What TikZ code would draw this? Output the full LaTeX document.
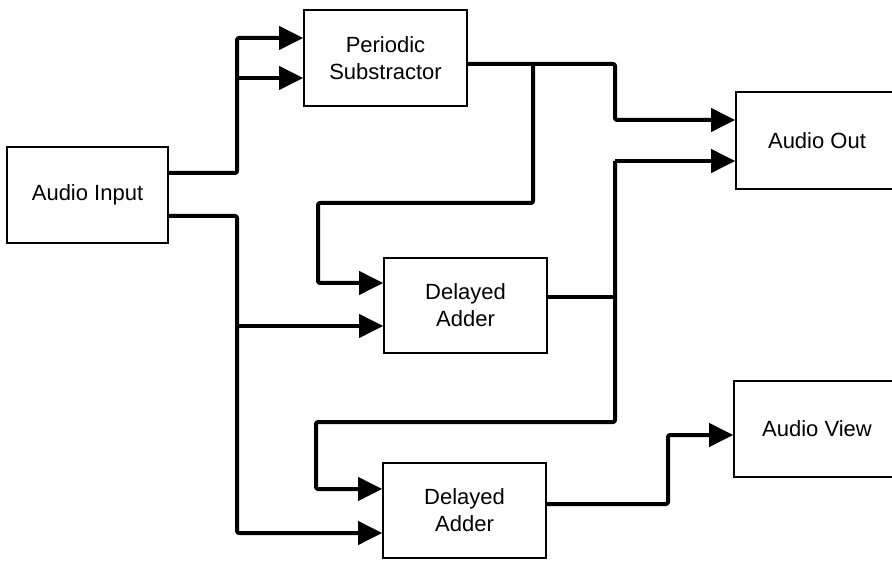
\documentclass[tikz,border=0pt]{standalone}
\usepackage{fontspec}
\setmainfont{Liberation Sans}
\usetikzlibrary{arrows.meta}
\begin{document}
\begin{tikzpicture}[x=1pt,y=-1pt,
  blk/.style={draw=black,line width=1.6pt,rectangle,inner sep=0pt,align=center,
    font=\fontsize{22}{27}\selectfont},
  wire/.style={line width=4pt,rounded corners=2pt,line join=round},
  arr/.style={wire,-{Triangle[length=24pt,width=23pt]}}]
\clip (0,0) rectangle (892,561);
\fill[white] (0,0) rectangle (892,561);
% blocks
\node[blk,minimum width=161pt,minimum height=96pt] (ain)  at (87.5,195)  {Audio Input};
\node[blk,minimum width=163pt,minimum height=96pt] (ps)   at (385.5,58)  {Periodic\\Substractor};
\node[blk,minimum width=162pt,minimum height=97pt] (aout) at (817,140.5) {Audio Out};
\node[blk,minimum width=163pt,minimum height=95pt] (da1)  at (465.5,305.5) {Delayed\\Adder};
\node[blk,minimum width=166pt,minimum height=96pt] (view) at (817,429)   {Audio View};
\node[blk,minimum width=163pt,minimum height=95pt] (da2)  at (464.5,510.5) {Delayed\\Adder};
% junction coordinates
\coordinate (j1) at (237,173);
\coordinate (j2) at (237,216);
\coordinate (j3) at (533,64);
\coordinate (j4) at (615,161);
% audio input -> periodic substractor
\draw[arr] (ain.east |- j1) -- (j1) -- (237,38) -- (ps.west |- 0,38);
\draw[arr] (237,78) -- (ps.west |- 0,78);
% audio input -> delayed adders
\draw[arr] (ain.east |- j2) -- (j2) -- (237,533) -- (da2.west |- 0,533);
\draw[arr] (237,326) -- (da1.west |- 0,326);
% periodic substractor -> audio out, delayed adder 1
\draw[arr] (ps.east |- j3) -- (615,64) -- (615,120) -- (aout.west |- 0,120);
\draw[arr] (j3) -- (533,203) -- (318,203) -- (318,283) -- (da1.west |- 0,283);
% delayed adder 1 -> audio out, delayed adder 2
\draw[wire] (da1.east |- 0,297) -- (615,297);
\draw[arr] (j4) -- (aout.west |- j4);
\draw[arr] (j4) -- (615,422) -- (316,422) -- (316,489) -- (da2.west |- 0,489);
% delayed adder 2 -> audio view
\draw[arr] (da2.east |- 0,504) -- (668,504) -- (668,435) -- (view.west |- 0,435);
\end{tikzpicture}
\end{document}
